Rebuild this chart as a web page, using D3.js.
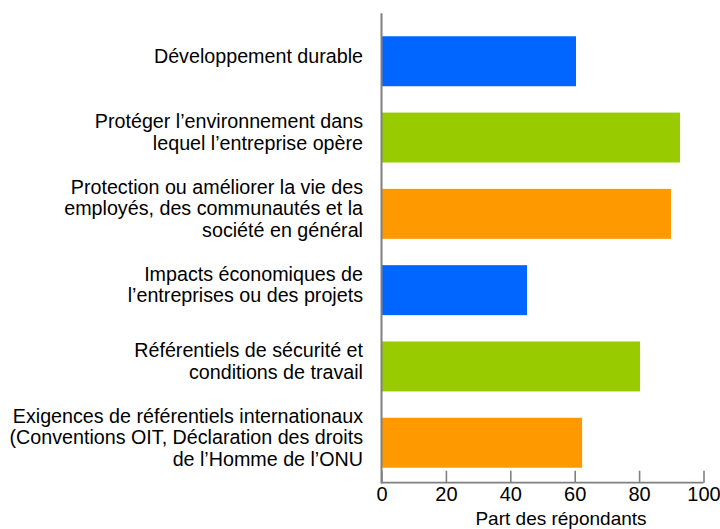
<!DOCTYPE html>
<html>
<head>
<meta charset="utf-8">
<script src="https://cdn.jsdelivr.net/npm/d3@7"></script>
<style>
  html, body { margin: 0; padding: 0; background: #fff; }
  svg { display: block; }
  text { font-family: Arial, "Liberation Sans", sans-serif; fill: #000; }
</style>
</head>
<body>
<svg id="chart" width="720" height="529"></svg>
<script>
const categories = [
  ["Développement durable"],
  ["Protéger l’environnement dans", "lequel l’entreprise opère"],
  ["Protection ou améliorer la vie des", "employés, des communautés et la", "société en général"],
  ["Impacts économiques de", "l’entreprises ou des projets"],
  ["Référentiels de sécurité et", "conditions de travail"],
  ["Exigences de référentiels internationaux", "(Conventions OIT, Déclaration des droits", "de l’Homme de l’ONU"]
];
const values = [60.4, 92.7, 89.9, 45.2, 80.3, 62.3];
const barColors = ["#0066FF", "#99CC00", "#FF9900", "#0066FF", "#99CC00", "#FF9900"];
const tickValues = [0, 20, 40, 60, 80, 100];
const axisTitle = "Part des répondants";

const svg = d3.select("#chart");
const x = d3.scaleLinear().domain([0, 100]).range([381.5, 703.5]);
const y = d3.scaleBand().domain(d3.range(categories.length)).range([23.1, 480.9])
  .paddingInner(0.345).paddingOuter(0.1725);

const axisColor = "#808080";

// bars
svg.append("g").selectAll("rect").data(values).join("rect")
  .attr("x", x(0))
  .attr("y", (d, i) => y(i))
  .attr("width", d => x(d) - x(0))
  .attr("height", y.bandwidth())
  .attr("fill", (d, i) => barColors[i]);

// category labels
const lineH = 21.5;
const lab = svg.append("g");
categories.forEach((lines, i) => {
  const cy = y(i) + y.bandwidth() / 2;
  const n = lines.length;
  const t = lab.append("text")
    .attr("text-anchor", "end")
    .style("font-size", "19.7px");
  lines.forEach((ln, j) => {
    t.append("tspan")
      .attr("x", 363)
      .attr("y", cy + 1.5 + (j - (n - 1) / 2) * lineH)
      .text(ln);
  });
});

// x axis
const xAxis = d3.axisBottom(x).tickValues(tickValues).tickSize(0).tickPadding(0).tickFormat(d3.format("d"));
const gx = svg.append("g").attr("transform", "translate(0,482.7)").call(xAxis);
gx.select(".domain").attr("stroke", axisColor).attr("stroke-width", 1.8).attr("d", `M${x(0)},0H${x(100)}`);
gx.selectAll(".tick line").attr("stroke", axisColor).attr("stroke-width", 1.6).attr("y1", 0).attr("y2", -12);
gx.selectAll(".tick text")
  .attr("y", 18.5)
  .attr("dy", null)
  .style("font-size", "20px")
  .style("font-family", "Arial, 'Liberation Sans', sans-serif")
  .attr("fill", "#000");

// y axis line
const yAxis = d3.axisLeft(y).tickValues([]).tickSize(0);
const gy = svg.append("g").attr("transform", `translate(${x(0)},0)`).call(yAxis);
gy.select(".domain").attr("stroke", axisColor).attr("stroke-width", 2).attr("d", "M0,13.3V483.5");

// axis title
svg.append("text")
  .attr("x", 561)
  .attr("y", 525)
  .attr("text-anchor", "middle")
  .style("font-size", "19px")
  .text(axisTitle);
</script>
</body>
</html>
